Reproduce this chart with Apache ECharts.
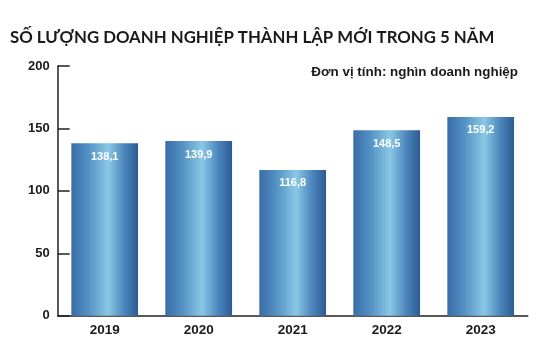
<!DOCTYPE html>
<html><head><meta charset="utf-8">
<script src="https://cdn.jsdelivr.net/npm/echarts@6/dist/echarts.min.js"></script>
<style>html,body{margin:0;padding:0;background:#fff}#c{width:555px;height:360px}</style>
</head><body><div id="c"></div>
<script>
const categories = ['2019','2020','2021','2022','2023'];
const values = [138.1, 139.9, 116.8, 148.5, 159.2];
const yTicks = [0, 50, 100, 150, 200];

const chart = echarts.init(document.getElementById('c'), null, {renderer:'canvas'});
const grad = new echarts.graphic.LinearGradient(0,0,1,0,[
  {offset:0, color:'#3a6da6'},
  {offset:0.25, color:'#5290c4'},
  {offset:0.55, color:'#8ac8e5'},
  {offset:0.8, color:'#4a84bb'},
  {offset:1, color:'#2d5b93'}
]);
chart.setOption({
  animation:false,
  title:{
    text:'SỐ LƯỢNG DOANH NGHIỆP THÀNH LẬP MỚI TRONG 5 NĂM',
    left:10, top:24, padding:[5,0,5,0],
    textStyle:{fontFamily:'Lato', fontWeight:'bold', fontSize:16.8, color:'#1a1a1a'}
  },
  graphic:[{
    type:'text', right:37, top:66,
    style:{text:'Đơn vị tính: nghìn doanh nghiệp', font:'bold 13.4px "Liberation Sans", Arial', fill:'#1a1a1a'}
  }],
  grid:{left:57.7, right:27.3, top:66, bottom:44.3, containLabel:false},
  xAxis:{
    type:'category', data:categories,
    axisLine:{lineStyle:{color:'#222', width:1.5}},
    axisTick:{inside:true, length:6, lineStyle:{color:'#222', width:1.5}},
    axisLabel:{fontFamily:'Liberation Sans', fontWeight:'bold', fontSize:13.5, color:'#1a1a1a', margin:8}
  },
  yAxis:{
    type:'value', min:0, max:200, interval:50,
    axisLine:{show:true, lineStyle:{color:'#222', width:1.5}},
    axisTick:{show:true, inside:true, length:12, lineStyle:{color:'#222', width:1.5}},
    splitLine:{show:false},
    axisLabel:{fontFamily:'Liberation Sans', fontWeight:'bold', fontSize:13, color:'#1a1a1a', margin:8,
      formatter:v=> yTicks.includes(v) ? String(v) : ''}
  },
  series:[{
    type:'bar', data:values, barWidth:'71%',
    itemStyle:{color:grad},
    label:{show:true, position:'insideTop', distance:8, color:'#fff',
      fontFamily:'Liberation Sans', fontWeight:'bold', fontSize:11,
      formatter:p=>p.value.toFixed(1).replace('.', ',')}
  }]
});
</script></body></html>
